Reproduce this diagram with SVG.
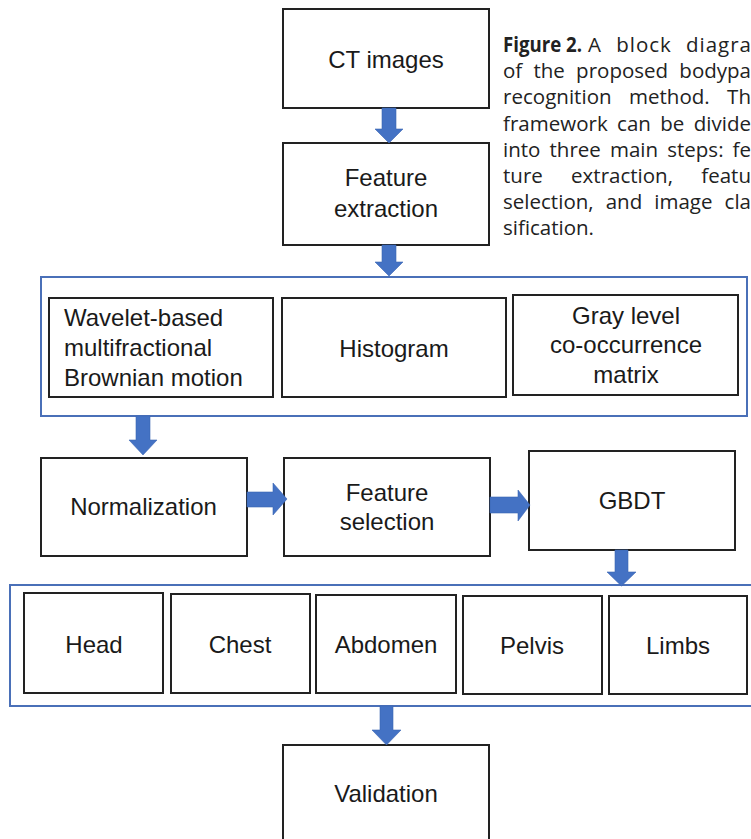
<svg xmlns="http://www.w3.org/2000/svg" width="751" height="839" viewBox="0 0 751 839">
<style>
.box{fill:#fff;stroke:#222;stroke-width:2}
.cont{fill:none;stroke:#4a70b8;stroke-width:2}
.lbl{font-family:"Liberation Sans",Arial,sans-serif;font-size:24px;fill:#1a1a1a;text-anchor:middle}
.lbll{font-family:"Liberation Sans",Arial,sans-serif;font-size:24px;fill:#1a1a1a}
.arr{fill:#4472c4;stroke:#3b65b3;stroke-width:0.6}
.cap{font-family:"Open Sans","Noto Sans",sans-serif;font-size:20.5px;fill:#222}
.capb{font-weight:bold}
</style>
<rect width="751" height="839" fill="#fff"/>
<g id="containers">
<rect id="feature-group" class="cont" x="41" y="277" width="706" height="139"/>
<rect id="class-group" class="cont" x="10" y="585" width="760" height="121"/>
</g>
<g id="ct-images"><rect class="box" x="283" y="9" width="206" height="99"/><text class="lbl" x="386" y="68">CT images</text></g>
<g id="feature-extraction"><rect class="box" x="283" y="143" width="206" height="102"/><text class="lbl" x="386" y="186">Feature</text><text class="lbl" x="386" y="217">extraction</text></g>
<g id="wavelet"><rect class="box" x="49" y="298" width="224" height="99"/><text class="lbll" x="64" y="326">Wavelet-based</text><text class="lbll" x="64" y="356">multifractional</text><text class="lbll" x="64" y="386">Brownian motion</text></g>
<g id="histogram"><rect class="box" x="282" y="298" width="224" height="99"/><text class="lbl" x="394" y="357">Histogram</text></g>
<g id="glcm"><rect class="box" x="513" y="295" width="225" height="100"/><text class="lbl" x="626" y="324">Gray level</text><text class="lbl" x="626" y="353">co-occurrence</text><text class="lbl" x="626" y="383">matrix</text></g>
<g id="normalization"><rect class="box" x="41" y="458" width="206" height="98"/><text class="lbl" x="143.5" y="515">Normalization</text></g>
<g id="feature-selection"><rect class="box" x="284" y="458" width="206" height="98"/><text class="lbl" x="387" y="501">Feature</text><text class="lbl" x="387" y="530">selection</text></g>
<g id="gbdt"><rect class="box" x="529" y="451" width="206" height="99"/><text class="lbl" x="632" y="509">GBDT</text></g>
<g id="head"><rect class="box" x="24" y="593" width="139" height="100"/><text class="lbl" x="94" y="653">Head</text></g>
<g id="chest"><rect class="box" x="171" y="594" width="139" height="99"/><text class="lbl" x="240" y="653">Chest</text></g>
<g id="abdomen"><rect class="box" x="316" y="595" width="140" height="98"/><text class="lbl" x="386" y="653">Abdomen</text></g>
<g id="pelvis"><rect class="box" x="463" y="596" width="139" height="98"/><text class="lbl" x="532" y="654">Pelvis</text></g>
<g id="limbs"><rect class="box" x="609" y="596" width="138" height="98"/><text class="lbl" x="678" y="654">Limbs</text></g>
<g id="validation"><rect class="box" x="283" y="745" width="206" height="110"/><text class="lbl" x="386" y="802">Validation</text></g>
<g id="connectors">
<polygon class="arr" points="382,108 396,108 396,129 403,129 389,143 375,129 382,129"/>
<polygon class="arr" points="382,245 396,245 396,262 403,262 389,276 375,262 382,262"/>
<polygon class="arr" points="136,416 150,416 150,440 157,440 143,455 129,440 136,440"/>
<polygon class="arr" points="247,492 273,492 273,483 287,499 273,515 273,507 247,507"/>
<polygon class="arr" points="490,497 518,497 518,490 530,505 518,521 518,513 490,513"/>
<polygon class="arr" points="615,550 628,550 628,572 636,572 621.5,586 607,572 615,572"/>
<polygon class="arr" points="380,706 393,706 393,730 401,730 386.5,745 372,730 380,730"/>
</g>
<g id="caption">
<text class="cap capb" x="503" y="52" textLength="79" lengthAdjust="spacingAndGlyphs">Figure 2.</text>
<text class="cap" x="588" y="52" word-spacing="8" textLength="163" lengthAdjust="spacing">A block diagra</text>
<text class="cap" x="503" y="78.2" word-spacing="5.9" textLength="248" lengthAdjust="spacing">of the proposed bodypa</text>
<text class="cap" x="503" y="104.4" word-spacing="12" textLength="248" lengthAdjust="spacing">recognition method. Th</text>
<text class="cap" x="503" y="130.6" word-spacing="4" textLength="248" lengthAdjust="spacing">framework can be divide</text>
<text class="cap" x="503" y="156.8" word-spacing="3.7" textLength="248" lengthAdjust="spacing">into three main steps: fe</text>
<text class="cap" x="503" y="183" word-spacing="23" textLength="248" lengthAdjust="spacing">ture extraction, featu</text>
<text class="cap" x="503" y="209.2" word-spacing="6.7" textLength="248" lengthAdjust="spacing">selection, and image cla</text>
<text class="cap" x="503" y="235.4">sification.</text>
</g>
</svg>
